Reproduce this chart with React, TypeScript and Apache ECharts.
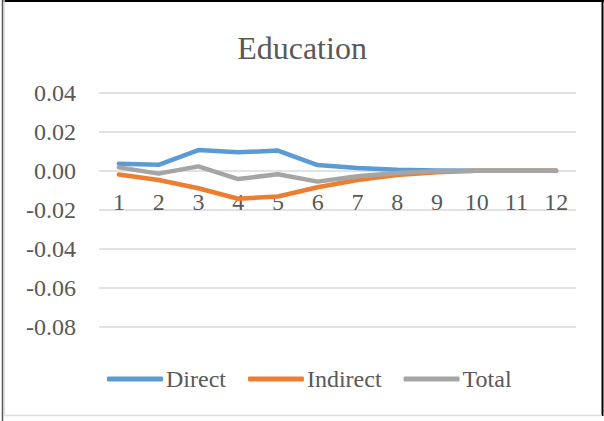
import React, { useEffect, useRef } from "react";
import * as echarts from "echarts";

// Periods along the horizontal axis
const periods = ["1", "2", "3", "4", "5", "6", "7", "8", "9", "10", "11", "12"];

// Effect of education by period
const directEffect = [0.0036, 0.003, 0.0106, 0.0094, 0.0103, 0.0029, 0.0014, 0.0005, 0.0001, 0, 0, 0];
const indirectEffect = [-0.002, -0.0048, -0.009, -0.0144, -0.0132, -0.0085, -0.0048, -0.0022, -0.0008, 0, 0, 0];
const totalEffect = [0.0017, -0.0015, 0.0022, -0.0043, -0.0018, -0.0056, -0.0029, -0.0012, -0.0003, 0, 0, 0];

const seriesNames = ["Direct", "Indirect", "Total"];
const seriesColors = ["#5B9BD5", "#ED7D31", "#A5A5A5"];

const FONT = "'Liberation Serif', 'Times New Roman', serif";
const TEXT_COLOR = "#595959";

// Plot area, in pixels
const GRID_TOP = 92.7;
const GRID_BOTTOM = 94.3;
const CHART_HEIGHT = 421;
const Y_MIN = -0.08;
const Y_MAX = 0.04;

export default function App() {
  const ref = useRef<HTMLDivElement>(null);

  useEffect(() => {
    if (!ref.current) return;
    const chart = echarts.init(ref.current, undefined, { renderer: "svg" });
    const values = [directEffect, indirectEffect, totalEffect];

    // Category labels sit just under the zero line, so lift the axis from the grid's bottom edge
    const plotHeight = CHART_HEIGHT - GRID_TOP - GRID_BOTTOM;
    const zeroLift = (plotHeight * (0 - Y_MIN)) / (Y_MAX - Y_MIN);

    chart.setOption({
      animation: false,
      backgroundColor: "#ffffff",
      title: {
        text: "Education",
        left: "center",
        top: 27,
        textStyle: { fontFamily: FONT, fontSize: 32, fontWeight: "normal", color: TEXT_COLOR },
      },
      legend: {
        left: 102,
        top: 362,
        itemWidth: 56,
        itemHeight: 5,
        itemGap: 22,
        icon: "roundRect",
        data: seriesNames,
        textStyle: { fontFamily: FONT, fontSize: 24, color: TEXT_COLOR, padding: [0, 0, 0, -2] },
      },
      grid: { left: 99, right: 28, top: GRID_TOP, bottom: GRID_BOTTOM },
      xAxis: {
        type: "category",
        data: periods,
        boundaryGap: true,
        offset: -zeroLift,
        axisLine: { show: false, onZero: false },
        axisTick: { show: false },
        axisLabel: { fontFamily: FONT, fontSize: 24, color: TEXT_COLOR, margin: 19, lineHeight: 24 },
      },
      yAxis: {
        type: "value",
        min: Y_MIN,
        max: Y_MAX,
        interval: 0.02,
        axisLine: { show: false },
        axisTick: { show: false },
        splitLine: { lineStyle: { color: "#d9d9d9", width: 1.5 } },
        axisLabel: {
          fontFamily: FONT,
          fontSize: 24,
          color: TEXT_COLOR,
          margin: 23,
          formatter: (v: number) => v.toFixed(2),
        },
      },
      series: seriesNames.map((name, i) => ({
        name,
        type: "line",
        data: values[i],
        symbol: "none",
        color: seriesColors[i],
        lineStyle: { color: seriesColors[i], width: 4.5, cap: "round", join: "round" },
        z: 2 + i,
      })),
      graphic: [
        { type: "line", shape: { x1: 2, y1: 1, x2: 604, y2: 1 }, style: { stroke: "#000000", lineWidth: 2 } },
        { type: "line", shape: { x1: 2.5, y1: 0, x2: 2.5, y2: 421 }, style: { stroke: "#555555", lineWidth: 1.5 } },
        { type: "line", shape: { x1: 4, y1: 0, x2: 4, y2: 416 }, style: { stroke: "#d0d0d0", lineWidth: 1.5 } },
        { type: "line", shape: { x1: 602.5, y1: 0, x2: 602.5, y2: 416 }, style: { stroke: "#000000", lineWidth: 2 } },
        { type: "line", shape: { x1: 4, y1: 415.5, x2: 602, y2: 415.5 }, style: { stroke: "#dcdcdc", lineWidth: 1.5 } },
      ],
    });

    return () => chart.dispose();
  }, []);

  return (
    <div
      ref={ref}
      style={{ position: "absolute", left: 0, top: 0, width: 604, height: 421 }}
    />
  );
}
